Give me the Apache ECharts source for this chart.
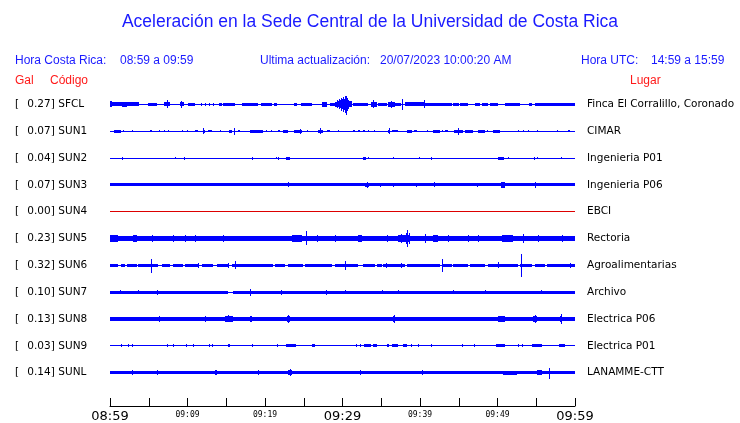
<!DOCTYPE html>
<html><head><meta charset="utf-8">
<script src="https://cdn.jsdelivr.net/npm/echarts@6/dist/echarts.min.js"></script>
<style>html,body{margin:0;padding:0;background:#fff}#c{width:740px;height:423px}</style>
</head><body><div id="c"></div>
<script>
// ---- data ----
const codes = ["SFCL","SUN1","SUN2","SUN3","SUN4","SUN5","SUN6","SUN7","SUN8","SUN9","SUNL"];
const gal = ["0.27","0.07","0.04","0.07","0.00","0.23","0.32","0.10","0.13","0.03","0.14"];
const places = ["Finca El Corralillo, Coronado","CIMAR","Ingenieria P01","Ingenieria P06","EBCI","Rectoria","Agroalimentarias","Archivo","Electrica P06","Electrica P01","LANAMME-CTT"];
const timeLabels = ["08:59","09:09","09:19","09:29","09:39","09:49","09:59"];
// events per trace: [start min, end min, half amplitude up, (half amplitude down)]
const evSFCL = [[0,3.7,2],[0,0.3,3],[1.5,2.2,2.8],[4.9,6.0,1.5],[7.0,7.7,2],[7.3,7.45,4],[9.0,9.5,2],[9.2,9.32,3.5],[10.1,11.0,1.5],[11.7,11.82,1.5],[12.25,12.37,1.5],[12.8,12.92,1.5],[13.3,13.42,1.5],[14.0,14.4,1.5],[14.6,16.1,1.5],[17.0,19.1,1.5],[19.5,20.9,1.5],[21.2,21.5,1.5],[23.7,24.1,1.5],[24.6,26.0,1.5],[27.4,28.0,2.5],[28.4,29.0,1.5],[29.0,29.3,2.5],[29.3,29.4,4],[29.4,29.6,3],[29.6,29.7,5],[29.7,29.85,4],[29.85,29.95,6,7],[29.95,30.1,5],[30.1,30.2,7,8],[30.2,30.3,5,6],[30.3,30.4,8,9],[30.4,30.5,6,7],[30.5,30.6,8,11],[30.6,30.75,6,7],[30.75,30.9,4,5],[30.9,31.2,3],[31.4,33.3,1.5],[33.7,34.4,2.5],[33.9,34.0,4],[34.6,35.7,1.5],[35.9,36.8,2.2],[36.2,36.3,3.5],[36.8,37.6,1.8],[37.7,37.8,5.5],[38.0,40.6,2],[40.55,40.65,4],[40.7,44.1,1.8],[44.3,45.0,1.5],[45.2,46.2,1.5],[47.1,47.7,1.5],[48.0,48.8,1.5],[49.0,50.1,1.5],[51.0,52.9,1.5],[54.0,54.4,1.5],[54.8,60,1.8]];
const evSUN1 = [[0.56,1.42,1.5],[1.72,1.85,1],[2.88,3.0,1],[5.16,5.38,1.2],[6.37,6.5,1],[7.01,7.12,1],[7.53,7.65,1],[9.25,9.37,1.2],[9.89,10.0,1],[10.97,11.4,1.2],[11.96,12.26,1.3],[12.05,12.15,3],[12.69,13.12,1.2],[14.19,14.3,1],[15.35,15.7,1.3],[16.0,16.12,3.5],[16.47,16.77,1.2],[18.06,19.78,1.3],[20.13,20.25,1],[20.77,20.9,1],[21.63,21.94,1.2],[22.28,22.92,1.3],[23.78,24.73,1.3],[24.5,24.62,2.5],[25.38,25.59,1.2],[26.88,27.53,1.3],[27.15,27.27,3],[27.96,28.39,1.2],[29.46,29.56,1],[31.4,31.61,1.2],[31.96,32.26,1.2],[32.69,32.9,1.2],[33.33,33.43,1],[34.11,34.21,1],[35.91,36.13,1.3],[35.95,36.05,3],[36.34,37.2,1.2],[38.28,38.92,1.3],[39.27,39.57,1.2],[40.86,40.96,1],[41.72,42.58,1.3],[42.88,42.98,1],[43.23,43.66,1.2],[44.43,45.59,1.3],[44.9,45.02,3.5],[45.81,46.88,1.3],[47.53,48.39,1.3],[48.6,48.7,1],[49.46,50.32,1.3],[52.69,52.79,1],[53.33,53.43,1],[53.98,54.08,1],[55.05,55.15,1],[57.63,57.73,1],[59.14,59.3,1.2]];
const evSUN2 = [[1.59,1.7,1.5],[8.39,8.5,1],[9.59,9.7,1.5],[18.28,18.4,1.5],[21.38,21.48,1.2],[21.72,21.82,1.5],[22.71,23.27,1.5],[32.69,32.99,1.5],[33.25,33.42,1.3],[36.56,36.68,1.3],[39.91,40.01,1],[41.42,41.54,1.5],[50.11,50.88,1.5],[51.4,51.5,1.3],[54.75,54.87,1.5],[55.05,55.2,1],[58.19,58.31,1.3]];
const evSUN3 = [[0,60,1.4],[22.92,23.04,2.5],[32.9,33.42,2.3],[33.1,33.22,3],[34.88,35.0,2.2],[36.56,36.68,2.2],[39.44,39.56,2.2],[41.85,41.97,2.5],[47.31,47.43,2],[50.45,50.97,2.8],[54.84,54.96,3.2]];
const evSUN4 = [];
const evSUN5 = [[0,60,2.8],[0,1.08,3.8],[3.01,3.44,3.4],[5.38,5.5,3.8],[8.17,8.3,3.8],[9.68,9.8,3.8],[10.97,11.1,3.8],[14.62,14.75,3.5],[23.44,24.73,3.3],[25.33,25.45,8,7],[26.67,26.8,3.8],[29.03,29.15,3.5],[32.04,32.47,3.6],[35.7,35.82,3.5],[37.2,38.06,3.3],[37.6,37.7,4.5],[38.06,38.71,3.8],[38.2,38.3,5.5],[38.35,38.5,9,9],[38.55,38.65,6],[40.65,40.77,5],[41.72,42.37,3.4],[43.66,43.78,3.5],[46.24,46.36,3.5],[47.53,47.65,3.5],[50.54,52.04,3.4],[53.33,53.45,5],[55.27,55.39,3.5],[58.28,58.4,3.5]];
const evSUN6 = [[0,1.08,1.5],[1.42,1.94,1.5],[2.15,3.44,1.5],[3.66,6.24,1.5],[6.67,7.74,1.5],[8.17,9.46,1.5],[9.68,11.4,1.5],[11.83,13.33,1.5],[13.76,15.27,1.5],[15.7,21.08,1.5],[21.29,22.58,1.5],[23.01,24.95,1.5],[25.16,28.6,1.5],[29.03,32.04,1.5],[32.69,34.19,1.5],[34.41,35.05,1.5],[35.27,38.06,1.5],[38.28,42.58,1.5],[42.8,44.09,1.5],[44.3,46.24,1.5],[46.45,48.39,1.5],[48.82,52.69,1.5],[52.9,54.41,1.5],[54.84,56.13,1.5],[56.34,60,1.5],[5.24,5.36,6.3,7.3],[16.07,16.19,4],[30.26,30.38,4.5],[42.82,42.94,6.5],[52.97,53.09,11,12],[11.35,11.45,2.5],[15.2,15.3,2.5],[35.65,35.75,2.5],[37.58,37.68,2.5],[50.05,50.15,3],[59.3,59.4,2.5]];
const evSUN7 = [[0,15.27,1.5],[15.91,60,1.5],[1.29,1.41,2],[3.66,3.78,2],[6.05,6.25,2.5],[18.1,18.22,3.5],[22.0,22.15,2.5],[27.9,28.05,2.5],[30.3,30.42,2],[35.1,35.22,2],[37.15,37.27,2],[44.25,44.37,2],[48.35,48.47,2],[55.65,55.77,2]];
const evSUN8 = [[0,60,1.7],[1.29,2.37,2.2],[5.38,7.31,2.2],[6.3,6.4,3],[7.96,9.68,2.2],[11.4,13.12,2.4],[12.2,12.3,3.2],[14.84,15.91,2.6],[15.2,15.3,3.5],[18.06,18.28,2.6],[22.8,23.23,2.8],[22.95,23.05,4],[29.03,30.32,2.2],[32.47,33.33,2.3],[36.56,36.77,3],[36.62,36.72,4],[50.11,50.97,2.6],[50.5,50.6,3.4],[54.62,55.05,2.6],[54.8,54.9,3.6],[58.06,58.37,3.4],[58.15,58.25,5]];
const evSUN9 = [[1.42,1.52,1.5],[2.37,2.47,1.5],[2.8,2.92,1.5],[7.31,7.41,1.3],[8.17,8.27,1.3],[9.76,9.86,1.3],[10.75,10.85,1.3],[12.77,12.87,1.3],[13.2,13.3,1.3],[15.27,15.48,1.5],[18.28,18.38,1.5],[21.51,21.72,1.3],[22.71,23.96,1.3],[26.11,26.45,1.3],[31.7,31.8,1.3],[32.26,32.36,1.3],[32.82,33.63,1.3],[33.98,34.41,1.3],[35.7,36.0,1.3],[36.43,37.12,1.3],[37.85,38.28,1.3],[38.84,38.94,1.3],[39.78,39.88,1.3],[41.42,41.52,1.3],[45.38,45.6,1.3],[47.01,47.11,1.3],[49.76,50.97,1.3],[52.6,52.7,1.3],[53.12,53.22,1.3],[54.49,55.78,1.3],[57.98,58.71,1.3]];
const evSUNL = [[0,60,1.5],[2.8,2.92,2.2],[6.02,6.14,2.2],[9.25,10.54,1.9],[13.55,13.76,2.5],[19.14,19.26,2.5],[23.01,23.44,2.6],[23.2,23.3,3.8],[32.26,32.38,2.6],[40.22,40.43,2.6],[50.75,52.47,2],[55.05,55.7,2.2],[56.6,56.72,5,6]];
const traces = [evSFCL,evSUN1,evSUN2,evSUN3,evSUN4,evSUN5,evSUN6,evSUN7,evSUN8,evSUN9,evSUNL];

// ---- build chart data ----
const rectData = [];
traces.forEach((ev, i) => {
  rectData.push([0, 60, i, 0.5, 0.5]);
  ev.forEach(e => rectData.push([e[0], e[1], i, e[2], e[3] !== undefined ? e[3] : e[2]]));
});

const chart = echarts.init(document.getElementById('c'), null, {renderer: 'canvas'});
const blue = '#1a1aff';
const txt = (x, y, text, color, size, align) => ({
  type: 'text', x: x, y: y,
  style: {text: text, fill: color, font: size + 'px "Liberation Sans", Arial, sans-serif', textAlign: align || 'left', textVerticalAlign: 'middle'}
});
chart.setOption({
  animation: false,
  backgroundColor: '#fff',
  graphic: [
    txt(370, 22, 'Aceleración en la Sede Central de la Universidad de Costa Rica', blue, 17.5, 'center'),
    txt(15, 61, 'Hora Costa Rica:', blue, 12),
    txt(120, 61, '08:59 a 09:59', blue, 12),
    txt(260, 61, 'Ultima actualización:', blue, 12),
    txt(380, 61, '20/07/2023 10:00:20 AM', blue, 12),
    txt(581, 61, 'Hora UTC:', blue, 12),
    txt(651, 61, '14:59 a 15:59', blue, 12),
    txt(15, 81, 'Gal', '#ff1a1a', 12),
    txt(50, 81, 'Código', '#ff1a1a', 12),
    txt(630, 81, 'Lugar', '#ff1a1a', 12)
  ],
  grid: {left: 110, right: 165, top: 91, height: 297},
  xAxis: {
    type: 'value', min: 0, max: 60, interval: 5, offset: 20,
    axisLine: {show: true, lineStyle: {color: '#000', width: 1}},
    axisTick: {show: true, inside: true, length: 8, lineStyle: {color: '#000'}},
    splitLine: {show: false},
    axisLabel: {
      margin: 4,
      formatter: v => {
        if (v % 10 !== 0) return '';
        const k = v / 10;
        return (k % 3 === 0 ? '{big|' : '{small|') + timeLabels[k] + '}';
      },
      rich: {
        big: {fontSize: 13, fontFamily: 'DejaVu Sans', color: '#000'},
        small: {fontSize: 8, fontFamily: 'DejaVu Sans Mono', color: '#000', padding: [1, 0, 0, 0]}
      }
    }
  },
  yAxis: [
    {
      type: 'category', data: codes, inverse: true, position: 'left',
      axisLine: {show: false}, axisTick: {show: false}, splitLine: {show: false},
      axisLabel: {
        align: 'left', margin: 95,
        formatter: (v, i) => '{a|[}{b|' + gal[i] + ']}{c| ' + v + '}',
        rich: {
          a: {width: 12, fontSize: 10.5, fontFamily: 'DejaVu Sans', color: '#000'},
          b: {width: 28, align: 'right', fontSize: 10.5, fontFamily: 'DejaVu Sans', color: '#000'},
          c: {fontSize: 10.5, fontFamily: 'DejaVu Sans', color: '#000'}
        }
      }
    },
    {
      type: 'category', data: places, inverse: true, position: 'right',
      axisLine: {show: false}, axisTick: {show: false}, splitLine: {show: false},
      axisLabel: {align: 'left', margin: 12, fontSize: 10.5, fontFamily: 'DejaVu Sans', color: '#000'}
    }
  ],
  series: [{
    type: 'custom', yAxisIndex: 0, clip: false,
    encode: {x: [0, 1], y: 2},
    data: rectData,
    renderItem: (params, api) => {
      const t0 = api.value(0), t1 = api.value(1), row = api.value(2);
      const up = api.value(3), dn = api.value(4);
      const p0 = api.coord([t0, row]);
      const p1 = api.coord([t1, row]);
      const s = api.size([0, 1])[1] / 27;
      const x0 = Math.round(p0[0]);
      const x1 = Math.max(Math.round(p1[0]), x0 + 1);
      const y0 = Math.round(p0[1] - up * s);
      const y1 = Math.max(Math.round(p0[1] + dn * s), y0 + 1);
      return {type: 'rect', shape: {x: x0, y: y0, width: x1 - x0, height: y1 - y0},
        style: {fill: row === 4 ? '#dd0000' : '#0000ff'}};
    }
  }]
});
</script></body></html>
